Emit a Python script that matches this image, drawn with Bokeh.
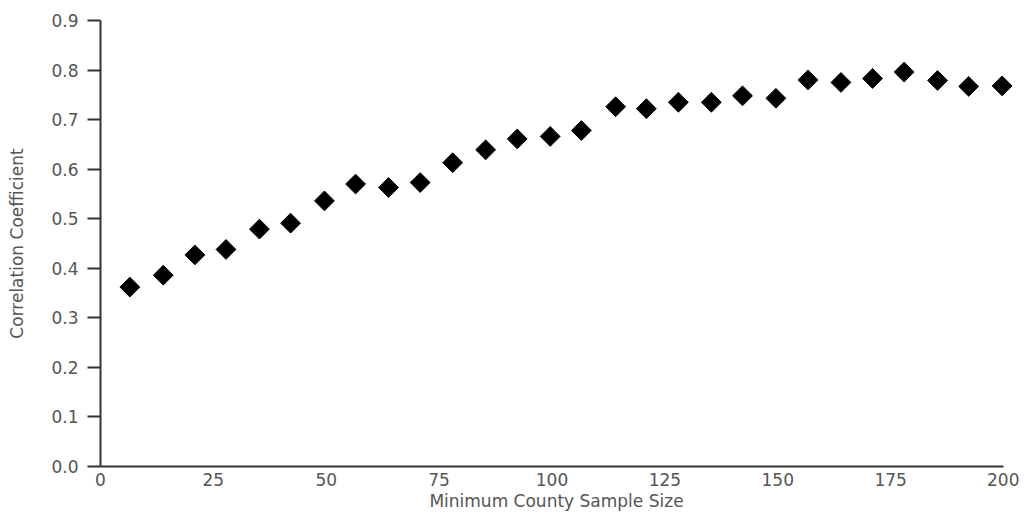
from bokeh.plotting import figure
from bokeh.models import Range1d, FixedTicker, NumeralTickFormatter
from bokeh.embed import file_html
from bokeh.resources import INLINE
import math

# Minimum county sample size (x) and correlation coefficient (y)
sample_size = [6.5, 13.9, 20.9, 27.8, 35.2, 42.1, 49.6, 56.5, 63.8, 70.8,
               78.0, 85.3, 92.3, 99.6, 106.5, 114.1, 120.9, 128.0, 135.3, 142.2,
               149.6, 156.7, 164.0, 171.0, 178.0, 185.4, 192.3, 199.7]
correlation = [0.362, 0.386, 0.427, 0.438, 0.479, 0.491, 0.536, 0.570, 0.563, 0.573,
               0.613, 0.639, 0.661, 0.666, 0.678, 0.726, 0.722, 0.735, 0.735, 0.748,
               0.743, 0.780, 0.775, 0.783, 0.796, 0.779, 0.767, 0.768]

x_ticks = [0, 25, 50, 75, 100, 125, 150, 175, 200]
y_ticks = [0.0, 0.1, 0.2, 0.3, 0.4, 0.5, 0.6, 0.7, 0.8, 0.9]

FONT = "DejaVu Sans"
TEXT_COLOR = "#555555"
LINE_COLOR = "#333333"
FS = "17px"

# the frame extends slightly past 200 so the last marker is not clipped;
# the axis line itself stops at 200 (bounds)
p = figure(width=1019, height=513, output_backend="svg", toolbar_location=None,
           x_range=Range1d(0, 202), y_range=Range1d(0, 0.9),
           min_border_left=100, min_border_right=7, min_border_top=20, min_border_bottom=0)

p.scatter(sample_size, correlation, marker="square", size=14, angle=math.pi / 4,
          fill_color="black", line_color="black")

p.grid.visible = False
p.outline_line_color = None
p.background_fill_color = "white"
p.border_fill_color = "white"

xa = p.xaxis[0]
xa.ticker = FixedTicker(ticks=x_ticks)
xa.bounds = (0, 200)
xa.axis_label = "Minimum County Sample Size"
xa.major_tick_out = 0
xa.major_tick_in = 0
xa.minor_tick_out = 0
xa.minor_tick_in = 0
xa.major_label_standoff = 6
xa.axis_label_standoff = 2

ya = p.yaxis[0]
ya.ticker = FixedTicker(ticks=y_ticks)
ya.formatter = NumeralTickFormatter(format="0.0")
ya.axis_label = "Correlation Coefficient"
ya.major_tick_out = 13
ya.major_tick_in = 0
ya.minor_tick_out = 0
ya.minor_tick_in = 0
ya.major_label_standoff = 9
ya.axis_label_standoff = 21

for ax in (xa, ya):
    ax.axis_line_color = LINE_COLOR
    ax.axis_line_width = 2
    ax.major_tick_line_color = LINE_COLOR
    ax.major_tick_line_width = 2
    ax.major_label_text_font = FONT
    ax.major_label_text_font_size = FS
    ax.major_label_text_color = TEXT_COLOR
    ax.axis_label_text_font = FONT
    ax.axis_label_text_font_size = FS
    ax.axis_label_text_font_style = "normal"
    ax.axis_label_text_color = TEXT_COLOR

open("out.html", "w").write(file_html(p, INLINE))
